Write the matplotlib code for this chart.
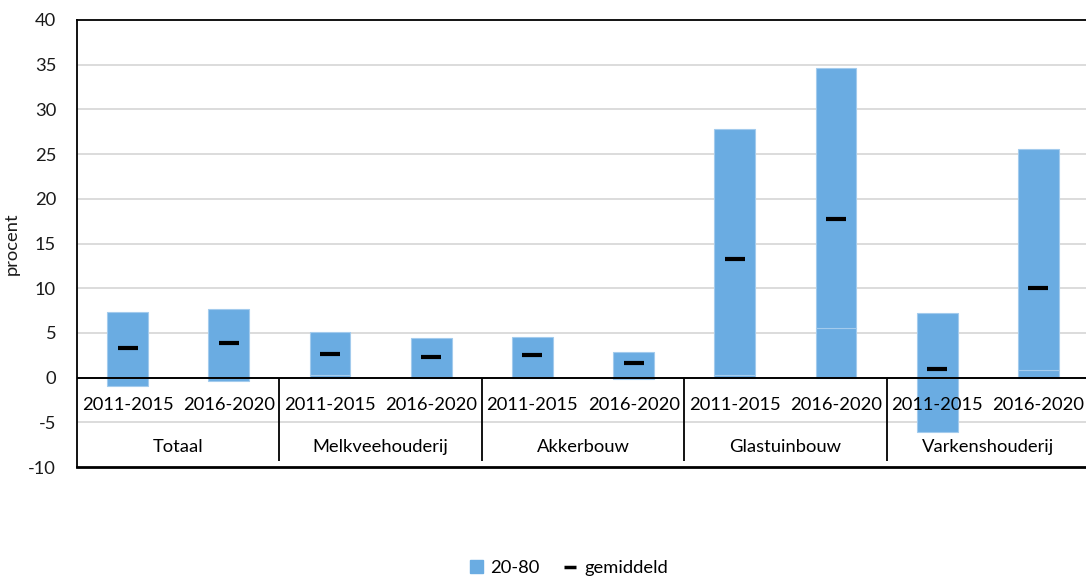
import numpy as np
import matplotlib
matplotlib.use('Agg')
import matplotlib.pyplot as plt
from matplotlib.patches import Patch
from matplotlib.lines import Line2D

plt.rcParams['font.family'] = ['Lato', 'DejaVu Sans']
plt.rcParams['axes.unicode_minus'] = False

# data
groepen = ['Totaal', 'Melkveehouderij', 'Akkerbouw', 'Glastuinbouw', 'Varkenshouderij']
perioden = ['2011-2015', '2016-2020']
p20 = [-0.95, -0.4, 0.3, 0.1, 0.05, -0.15, 0.3, 5.55, -6.1, 0.85]
p80 = [7.3, 7.7, 5.05, 4.4, 4.5, 2.85, 27.85, 34.65, 7.25, 25.6]
gemiddeld = [3.3, 3.85, 2.6, 2.35, 2.5, 1.6, 13.3, 17.75, 0.95, 10.0]

blauw = '#6aace2'
rand = '#a3cbed'
fs = 13.2

fig = plt.figure(figsize=(10.86, 5.79), dpi=100)
ax = fig.add_axes([77 / 1086, 1 - 467 / 579, 1012 / 1086, 447 / 579])

x = np.arange(len(p20))
p20 = np.array(p20)
p80 = np.array(p80)
breedte = 0.405

# gestapelde balken zoals in Excel: 0..p20 en p20..p80
ax.bar(x, p20, breedte, color=blauw, edgecolor=rand, linewidth=0.8, zorder=2)
basis = np.maximum(p20, 0)
ax.bar(x, p80 - basis, breedte, bottom=basis, color=blauw, edgecolor=rand, linewidth=0.8, zorder=2)

# gemiddelde
ax.plot(x, gemiddeld, linestyle='none', marker='_', markersize=14, markeredgewidth=3,
        color='black', zorder=4)

ax.set_ylim(-10, 40)
ax.set_xlim(-0.5, 9.5)
ax.set_yticks(np.arange(-10, 41, 5))
ax.set_xticks([])
ax.tick_params(axis='y', length=0, pad=15, labelsize=fs, colors='#1a1a1a')
ax.set_ylabel('procent', fontsize=fs, color='#1a1a1a', labelpad=6)

for y in range(-5, 40, 5):
    if y != 0:
        ax.axhline(y, color='#d9d9d9', linewidth=1.3, zorder=0)
ax.axhline(0, color='black', linewidth=1.4, zorder=3)

for s in ['top', 'left', 'bottom']:
    ax.spines[s].set_color('black')
ax.spines['top'].set_linewidth(1.3)
ax.spines['left'].set_linewidth(1.3)
ax.spines['bottom'].set_linewidth(2)
ax.spines['right'].set_visible(False)

# categorie-labels binnen het plotvlak
for i in x:
    ax.text(i, -3.1, perioden[i % 2], ha='center', va='center', fontsize=fs,
            color='black', zorder=5)
for g, naam in enumerate(groepen):
    ax.text(2 * g + 0.5, -7.8, naam, ha='center', va='center', fontsize=fs,
            color='black', zorder=5)
ax.vlines([1.5, 3.5, 5.5, 7.5], -9.3, 0, color='black', linewidth=1.3, zorder=3)

handles = [Patch(facecolor=blauw, edgecolor=blauw),
           Line2D([], [], color='black', marker='_', markersize=9, markeredgewidth=2.5,
                  linestyle='none')]
fig.legend(handles, ['20-80', 'gemiddeld'], loc='center', bbox_to_anchor=(569 / 1086, 1 - 568 / 579),
           ncol=2, frameon=False, fontsize=fs, handlelength=0.7, handletextpad=0.4,
           columnspacing=1.3)

fig.savefig('out.png', dpi=100)
